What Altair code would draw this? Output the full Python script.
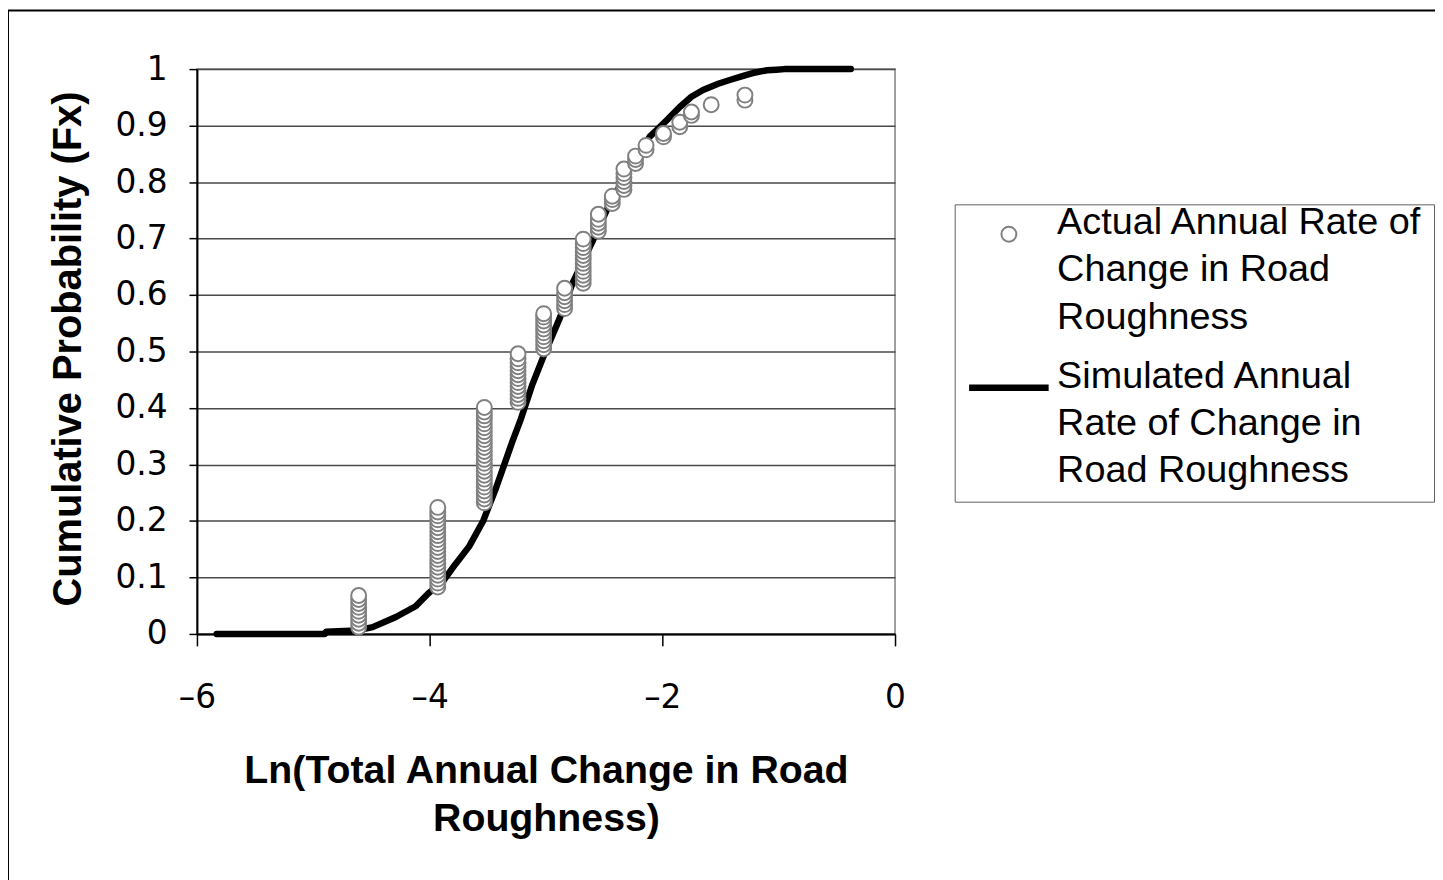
import altair as alt
import pandas as pd

# ---------------- data ----------------
# Actual observations: ln(annual change) levels and their cumulative probabilities
actual_levels = [-4.61, -3.93, -3.53, -3.24, -3.02, -2.84, -2.68, -2.55, -2.43,
                 -2.33, -2.23, -2.14, -1.99, -1.85, -1.75, -1.58, -1.29]
actual_probs = [
    [0.012, 0.019, 0.026, 0.033, 0.040, 0.047, 0.054, 0.061, 0.068],
    [0.083, 0.090, 0.097, 0.104, 0.111, 0.118, 0.125, 0.132, 0.139, 0.146, 0.153,
     0.160, 0.167, 0.174, 0.181, 0.188, 0.195, 0.202, 0.209, 0.216, 0.224],
    [0.232, 0.239, 0.246, 0.253, 0.260, 0.267, 0.274, 0.281, 0.288, 0.295, 0.302,
     0.309, 0.316, 0.323, 0.330, 0.337, 0.344, 0.351, 0.358, 0.365, 0.372, 0.379,
     0.386, 0.393, 0.401],
    [0.410, 0.417, 0.424, 0.431, 0.438, 0.445, 0.452, 0.459, 0.466, 0.473, 0.480,
     0.487, 0.496],
    [0.505, 0.512, 0.519, 0.526, 0.533, 0.540, 0.547, 0.554, 0.561, 0.567],
    [0.576, 0.583, 0.590, 0.597, 0.604, 0.612],
    [0.621, 0.628, 0.635, 0.642, 0.649, 0.656, 0.663, 0.670, 0.677, 0.684, 0.691, 0.699],
    [0.713, 0.720, 0.727, 0.734, 0.743],
    [0.762, 0.769, 0.775],
    [0.787, 0.794, 0.801, 0.808, 0.815, 0.823],
    [0.833, 0.840, 0.846],
    [0.857, 0.865],
    [0.880, 0.886],
    [0.898, 0.906],
    [0.918, 0.924],
    [0.937],
    [0.945, 0.954],
]

# Simulated CDF curve
sim_x = [-5.83, -4.90, -4.89, -4.63, -4.49, -4.29, -4.12, -4.01, -3.89, -3.78,
         -3.66, -3.54, -3.43, -3.29, -3.22, -3.12, -3.02, -2.88, -2.77, -2.60,
         -2.47, -2.32, -2.20, -2.11, -2.02, -1.95, -1.85, -1.75, -1.65, -1.52,
         -1.40, -1.29, -1.20, -1.10, -1.02, -0.95, -0.38]
sim_y = [0.000, 0.000, 0.004, 0.006, 0.012, 0.030, 0.049, 0.072, 0.092, 0.123,
         0.155, 0.200, 0.258, 0.340, 0.378, 0.440, 0.492, 0.560, 0.622, 0.695,
         0.754, 0.810, 0.850, 0.880, 0.898, 0.912, 0.933, 0.951, 0.963, 0.974,
         0.982, 0.989, 0.994, 0.998, 0.999, 1.000, 1.000]

x_ticks = [-6, -4, -2, 0]
y_ticks = [0, 0.1, 0.2, 0.3, 0.4, 0.5, 0.6, 0.7, 0.8, 0.9, 1]

series_keys = ["Actual", "Simulated"]
series_colors = ["#808080", "#000000"]
series_shapes = ["circle", "stroke"]
series_sizes = [225, 6400]
series_widths = [2, 6.5]

x_title = ["Ln(Total Annual Change in Road", "Roughness)"]
y_title = "Cumulative Probability (Fx)"

# ---------------- tables ----------------
rows = []
for lv, probs in zip(actual_levels, actual_probs):
    for p in probs:
        rows.append({"x": lv, "y": p, "series": "Actual"})
actual_df = pd.DataFrame(rows)
sim_df = pd.DataFrame({"x": sim_x, "y": sim_y, "series": ["Simulated"] * len(sim_x)})

W, H = 702, 568
PAD_L, PAD_T = 190, 59
TOTAL_W, TOTAL_H = 1435, 872

FONT = "Liberation Sans"
TICK_FONT = "DejaVu Sans"

x_enc = alt.X("x:Q", scale=alt.Scale(domain=[-6, 0], nice=False, zero=False),
              axis=alt.Axis(values=x_ticks, title=x_title, grid=False, format="d",
                            labelExpr="datum.value < 0 ? '\u2013' + abs(datum.value) + '\u00a0' : datum.label",
                            tickSize=12, labelPadding=36, titleY=118,
                            titleFontSize=39.5, titleFontWeight="bold",
                            titleLineHeight=49))
y_enc = alt.Y("y:Q", scale=alt.Scale(domain=[0, 1], nice=False),
              axis=alt.Axis(values=y_ticks, title=y_title, grid=True, format="~g",
                            tickSize=8, labelPadding=22, titleX=-129, titleY=281,
                            titleBaseline="middle",
                            titleFontSize=40, titleFontWeight="bold"))

label_expr = ("datum.value == 'Actual' ? ['Actual Annual Rate of', 'Change in Road', 'Roughness']"
              " : ['Simulated Annual', 'Rate of Change in', 'Road Roughness']")

legend = alt.Legend(
    title=None, orient="none", legendX=762, legendY=136,
    labelExpr=label_expr, labelFont=FONT, labelFontSize=38, labelColor="black",
    labelBaseline="alphabetic",
    labelLimit=600, rowPadding=8, labelOffset=5, padding=11,
    strokeColor="#606060", fillColor="white", symbolFillColor="white",
)

color_enc = alt.Color("series:N", scale=alt.Scale(domain=series_keys, range=series_colors),
                      legend=legend)
shape_enc = alt.Shape("series:N", scale=alt.Scale(domain=series_keys, range=series_shapes),
                      legend=legend)
size_enc = alt.Size("series:N", scale=alt.Scale(domain=series_keys, range=series_sizes),
                    legend=legend)
sw_enc = alt.StrokeWidth("series:N",
                         scale=alt.Scale(domain=series_keys, range=series_widths),
                         legend=legend)

line = alt.Chart(sim_df).mark_line(strokeCap="round", strokeJoin="round").encode(
    x=x_enc, y=y_enc, color=color_enc, strokeWidth=sw_enc, order=alt.Order("x:Q"))

points = alt.Chart(actual_df).mark_point(filled=False, fill="white", fillOpacity=1,
                                         opacity=1).encode(
    x=x_enc, y=y_enc, color=color_enc, shape=shape_enc, size=size_enc,
    strokeWidth=sw_enc)

frame = alt.Chart(pd.DataFrame({"a": [0]})).mark_rect(
    fill="transparent", stroke="black", strokeWidth=2).encode(
    x=alt.value(-PAD_L + 0), x2=alt.value(TOTAL_W),
    y=alt.value(-PAD_T + 0), y2=alt.value(TOTAL_H))

chart = alt.layer(frame, line, points).properties(
    width=W, height=H,
    autosize=alt.AutoSizeParams(type="none"),
    padding={"left": PAD_L, "top": PAD_T, "right": TOTAL_W - PAD_L - W,
             "bottom": TOTAL_H - PAD_T - H},
    background="white",
).configure(
    style={"guide-label": {"lineHeight": 47.5}}
).configure_view(
    stroke="#808080", strokeWidth=1.5
).configure_axis(
    labelFont=TICK_FONT, labelFontSize=33, labelColor="black",
    titleFont=FONT, titleColor="black",
    domainColor="black", domainWidth=2, tickColor="black", tickWidth=1.5,
    gridColor="#4a4a4a", gridWidth=1.5, labelFlush=False, labelOverlap=False,
)

chart.save("out.html", embed_options={"renderer": "svg", "actions": False})
